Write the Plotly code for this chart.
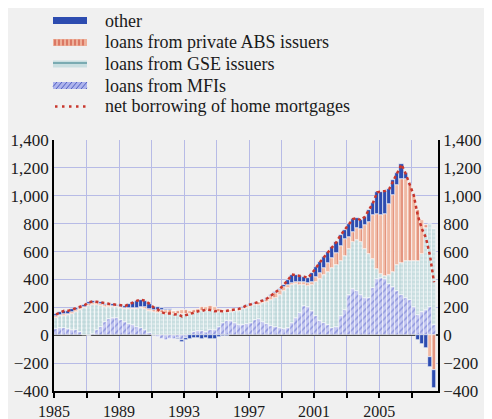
import plotly.graph_objects as go

# quarterly flows, 1985Q1 - 2008Q2 (USD billions, annualised)
start_year = 1985

mfi = [45, 55, 50, 45,
       40, 35, 20, 5,
       -5, 10, 40, 60,
       95, 115, 125, 120,
       110, 95, 80, 70,
       60, 50, 35, 15,
       -5, -15, -30, -35,
       -30, -25, -20, -35,
       -20, 5, 20, 30,
       30, 25, 35, 40,
       60, 85, 100, 105,
       90, 75, 70, 80,
       90, 110, 115, 95,
       80, 65, 60, 55,
       45, 55, 90, 120,
       160, 210, 200, 175,
       140, 100, 85, 70,
       55, 60, 140, 180,
       285, 335, 320, 285,
       265, 270, 340, 400,
       410, 400, 370, 345,
       320, 290, 265, 250,
       205, 145, 165, 180,
       200, 70]

gse = [80, 80, 90, 100,
       115, 130, 160, 190,
       210, 208, 175, 150,
       110, 90, 75, 80,
       85, 95, 110, 120,
       130, 145, 155, 160,
       165, 160, 158, 155,
       155, 152, 150, 152,
       155, 150, 140, 140,
       145, 150, 145, 135,
       110, 80, 65, 62,
       82, 100, 115, 118,
       120, 105, 105, 133,
       160, 187, 208, 230,
       275, 285, 268, 245,
       202, 150, 155, 183,
       245, 305, 345, 385,
       425, 445, 390, 390,
       335, 330, 365, 385,
       356, 315, 210, 78,
       30, 25, 60, 110,
       182, 230, 265, 285,
       330, 390, 415, 590,
       600, 690]

abs_issuers = [10, 10, 10, 10,
               10, 13, 12, 10,
               12, 12, 13, 12,
               10, 10, 12, 10,
               10, 8, 8, 8,
               8, 10, 10, 13,
               15, 18, 22, 25,
               25, 22, 25, 28,
               25, 20, 22, 20,
               25, 30, 30, 25,
               20, 15, 12, 12,
               10, 12, 12, 12,
               8, 9, 15, 17,
               20, 28, 37, 37,
               25, 22, 20, 20,
               20, 20, 20, 24,
               35, 43, 52, 65,
               72, 87, 110, 120,
               85, 77, 85, 92,
               168, 228, 310, 394,
               420, 447, 514, 549,
               573, 600, 593, 540,
               465, 361, 244, 20,
               -155, -250]

other = [15, 20, 25, 20,
         20, 17, 13, 10,
         18, 12, 12, 13,
         11, 10, 10, 10,
         10, 12, 24, 40,
         50, 50, 45, 37,
         25, 22, 15, 10,
         5, 0, -5, -10,
         -15, -25, -20, -18,
         -25, -20, -30, -28,
         -15, -8, -2, 0,
         0, 2, 3, 5,
         4, 6, 5, 5,
         5, 5, 5, 8,
         17, 31, 57, 47,
         43, 40, 37, 63,
         70, 78, 80, 77,
         81, 77, 77, 68,
         90, 90, 71, 62,
         61, 87, 90, 153,
         170, 163, 106, 106,
         85, 105, 37, 10,
         5, -36, -60, -90,
         -72, -130]

net_borrowing = [150, 165, 175, 175,
                 185, 195, 205, 215,
                 235, 242, 240, 235,
                 226, 225, 222, 220,
                 215, 210, 222, 238,
                 248, 255, 245, 225,
                 200, 185, 165, 155,
                 155, 149, 150, 135,
                 145, 150, 162, 172,
                 175, 185, 180, 172,
                 175, 172, 175, 179,
                 182, 189, 200, 215,
                 222, 230, 240, 250,
                 265, 285, 310, 330,
                 362, 393, 435, 432,
                 425, 420, 412, 445,
                 490, 526, 562, 597,
                 633, 669, 717, 758,
                 795, 832, 841, 824,
                 850, 900, 950, 1025,
                 1030, 1035, 1050, 1110,
                 1160, 1225, 1160, 1085,
                 1005, 860, 764, 700,
                 573, 380]

legend_labels = ["other", "loans from private ABS issuers", "loans from GSE issuers",
                 "loans from MFIs", "net borrowing of home mortgages"]

# bar centred in the middle of each quarter
x = [start_year + (i + 0.5) / 4 for i in range(len(mfi))]

year_ticks = list(range(1985, 2009, 2))
year_text = [str(y) if (y - 1985) % 4 == 0 else "" for y in year_ticks]

FONT = "Liberation Serif"
GRID = "#b7bbe6"
BLUE = "#2d4cb0"
SALMON = "#f0b9a4"
RED = "#c8402e"
TEAL_BG = "#d9e8e9"
TEAL = "#7fb0b6"
LAV = "#c2c6f0"
LAV_FG = "#5d68cc"

# the page has an 8px body margin, so the figure is 8px smaller than the window
OFF = 8
W, H = 492 - OFF, 419 - OFF
L, R, T, B = 54 - OFF, 54, 140 - OFF, 28
PW, PH = W - L - R, H - T - B


# window pixel -> paper coords (for the hand-drawn legend)
def px(p):
    return (p - OFF - L) / PW


def py(p):
    return (H - B - (p - OFF)) / PH


fig = go.Figure()

# stacked bars (bottom to top)
fig.add_trace(go.Bar(
    x=x, y=mfi, width=0.25, showlegend=False, name=legend_labels[3],
    marker=dict(color=LAV, line=dict(color="white", width=0.6),
                pattern=dict(shape="/", fgcolor=LAV_FG, bgcolor=LAV, size=5, solidity=0.3))))
fig.add_trace(go.Bar(
    x=x, y=gse, width=0.25, showlegend=False, name=legend_labels[2],
    marker=dict(color=TEAL_BG, line=dict(color="white", width=0.6),
                pattern=dict(shape="+", fgcolor=TEAL, bgcolor=TEAL_BG, size=4, solidity=0.3))))
fig.add_trace(go.Bar(
    x=x, y=abs_issuers, width=0.25, showlegend=False, name=legend_labels[1],
    marker=dict(color=SALMON, line=dict(color="white", width=0.6),
                pattern=dict(shape="|", fgcolor=RED, bgcolor=SALMON, size=8, solidity=0.15))))
fig.add_trace(go.Bar(
    x=x, y=other, width=0.25, showlegend=False, name=legend_labels[0],
    marker=dict(color=BLUE, line=dict(color="white", width=0.6))))

fig.add_trace(go.Scatter(
    x=x, y=net_borrowing, mode="lines", name=legend_labels[4], yaxis="y2", showlegend=False,
    line=dict(color="#c8372d", width=2.5, dash="3px,3px")))

# legend drawn by hand: wide flat keys like the original
shapes = []
annotations = []
rows = [20.5, 42.5, 64, 85.5, 106.5]
k0, k1 = 53, 87
for label, yc in zip(legend_labels, rows):
    annotations.append(dict(x=px(103), y=py(yc), xref="paper", yref="paper", text=label,
                            showarrow=False, xanchor="left", yanchor="middle",
                            font=dict(family=FONT, size=18, color="#1a1a1a")))


def key_rect(yc, color):
    shapes.append(dict(type="rect", xref="paper", yref="paper", x0=px(k0), x1=px(k1),
                       y0=py(yc + 3.5), y1=py(yc - 3.5), fillcolor=color, line=dict(width=0)))


key_rect(rows[0], BLUE)
key_rect(rows[1], "#eeb09a")
for xs in range(55, 87, 4):
    shapes.append(dict(type="line", xref="paper", yref="paper", x0=px(xs), x1=px(xs),
                       y0=py(rows[1] + 3), y1=py(rows[1] - 3), line=dict(color=RED, width=1)))
key_rect(rows[2], "#cadfe1")
shapes.append(dict(type="line", xref="paper", yref="paper", x0=px(k0), x1=px(k1),
                   y0=py(rows[2] - 1), y1=py(rows[2] - 1), line=dict(color="#5f9aa2", width=1.5)))
key_rect(rows[3], "#aeb4ec")
for xs in range(51, 87, 5):
    shapes.append(dict(type="line", xref="paper", yref="paper", x0=px(max(xs, k0)),
                       x1=px(min(xs + 6, k1)), y0=py(rows[3] + 3.5 - 7 * (max(xs, k0) - xs) / 6),
                       y1=py(rows[3] - 3.5 + 7 * (xs + 6 - min(xs + 6, k1)) / 6),
                       line=dict(color="#5060c4", width=1)))
shapes.append(dict(type="line", xref="paper", yref="paper", x0=px(55), x1=px(89),
                   y0=py(rows[4]), y1=py(rows[4]),
                   line=dict(color="#c8372d", width=2.5, dash="2.5px,4.5px")))

fig.update_layout(
    width=W, height=H,
    margin=dict(l=L, r=R, t=T, b=B),
    paper_bgcolor="#f0f0f0", plot_bgcolor="#f0f0f0",
    barmode="relative", bargap=0,
    showlegend=False,
    font=dict(family=FONT, size=17, color="#1a1a1a"),
    shapes=shapes, annotations=annotations,
    xaxis=dict(range=[1985, 2008.62], tickvals=year_ticks, ticktext=year_text,
               ticks="outside", ticklen=5, tickcolor="black", tickwidth=1.5,
               tickfont=dict(size=16), ticklabelstandoff=0,
               showline=True, linecolor="black", linewidth=1.5, automargin=False,
               showgrid=True, gridcolor=GRID, gridwidth=1, zeroline=False),
    yaxis=dict(range=[-400, 1400], dtick=200, tickformat=",", automargin=False,
               showline=True, linecolor="black", linewidth=1.5,
               showgrid=True, gridcolor=GRID, gridwidth=1,
               zeroline=True, zerolinecolor="#333333", zerolinewidth=2),
    yaxis2=dict(range=[-400, 1400], dtick=200, tickformat=",", overlaying="y", side="right",
                showline=True, linecolor="black", linewidth=1.5, automargin=False,
                showgrid=False, zeroline=False),
)

fig.write_html("out.html")
